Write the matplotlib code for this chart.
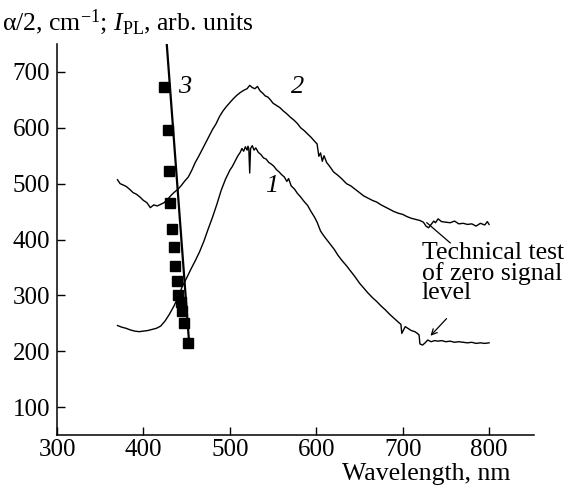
import matplotlib
matplotlib.use("Agg")
import matplotlib.pyplot as plt

plt.rcParams['font.family'] = ['Liberation Serif', 'DejaVu Serif']
plt.rcParams['mathtext.fontset'] = 'custom'
plt.rcParams['mathtext.rm'] = 'Liberation Serif'
plt.rcParams['mathtext.it'] = 'Liberation Serif:italic'

# curve 1: PL spectrum (lower)
wl1 = [370, 375, 380, 385, 390, 395, 400, 405, 410, 415, 420, 425, 430, 435, 440,
       445, 450, 455, 460, 465, 470, 475, 480, 485, 490, 495, 500, 503, 506, 509,
       512, 514, 516, 518, 520, 521, 522, 523, 524, 526, 528, 530, 533, 536, 539,
       542, 545, 548, 551, 554, 557, 560, 563, 566, 568, 571, 575, 578, 582, 586,
       590, 594, 598, 601, 605, 609, 613, 617, 621, 625, 630, 635, 640, 645, 650,
       655, 660, 665, 670, 675, 680, 685, 690, 695, 698, 699, 703, 706, 710, 714,
       717, 719, 720, 723, 726, 729, 733, 737, 741, 745, 750, 755, 760, 765, 770,
       775, 780, 785, 790, 795, 800]
pl1 = [246, 243, 241, 238, 236, 235, 236, 237, 239, 241, 245, 254, 266, 280, 296,
       316, 331, 347, 362, 378, 397, 419, 440, 463, 488, 508, 524, 531, 540, 549,
       556, 563, 558, 566, 560, 567, 562, 519, 563, 568, 560, 564, 556, 552, 546,
       544, 538, 535, 531, 525, 521, 516, 512, 504, 509, 496, 490, 483, 476, 468,
       461, 450, 440, 431, 415, 406, 398, 390, 382, 372, 362, 353, 343, 333, 322,
       313, 304, 296, 289, 281, 274, 266, 259, 252, 248, 232, 244, 241, 237, 235,
       232, 229, 213, 211, 215, 220, 217, 219, 218, 219, 217, 218, 216, 217, 216,
       215, 216, 214, 215, 214, 215]

# curve 2: PL spectrum (upper)
wl2 = [370, 373, 376, 380, 384, 388, 392, 396, 400, 404, 408, 412, 416, 420, 424,
       428, 432, 436, 440, 444, 448, 452, 456, 460, 464, 468, 472, 476, 480, 484,
       488, 492, 496, 500, 504, 508, 512, 516, 520, 523, 526, 529, 532, 535, 538,
       541, 544, 547, 550, 554, 558, 562, 566, 570, 574, 578, 582, 586, 590, 594,
       598, 601, 603, 605, 607, 609, 612, 616, 620, 625, 630, 635, 640, 645, 650,
       655, 660, 665, 670, 675, 680, 685, 690, 695, 700, 705, 710, 715, 720, 724,
       727, 730, 733, 736, 738, 741, 745, 750, 755, 760, 765, 770, 775, 780, 785,
       790, 795, 798, 800]
pl2 = [507, 500, 498, 495, 490, 484, 481, 476, 470, 466, 457, 462, 460, 463, 466,
       472, 479, 485, 490, 497, 505, 512, 524, 538, 549, 561, 573, 585, 597, 607,
       620, 630, 638, 645, 652, 658, 663, 667, 670, 676, 672, 670, 674, 666, 662,
       657, 655, 650, 644, 640, 636, 630, 625, 619, 614, 608, 600, 595, 589, 583,
       576, 571, 549, 555, 540, 550, 538, 530, 521, 515, 508, 500, 496, 490, 484,
       478, 474, 470, 467, 462, 458, 454, 450, 447, 445, 441, 438, 436, 434, 431,
       424, 421, 427, 433, 430, 437, 432, 431, 430, 433, 428, 429, 427, 428, 424,
       429, 426, 432, 427]

# curve 3: absorption points
wl3 = [424, 428, 430, 431, 433, 435, 437, 439, 440, 443, 445, 447, 452]
a3 = [673, 596, 522, 466, 418, 386, 353, 325, 300, 288, 272, 250, 215]
fit3_wl = [427, 453]
fit3_a = [750, 213]

fig = plt.figure(figsize=(5.74, 4.9), dpi=100)
ax = fig.add_axes([57 / 574, 1 - 435 / 490, (534 - 57) / 574, (435 - 44) / 490])

ax.plot(wl1, pl1, color='black', lw=1.0)
ax.plot(wl2, pl2, color='black', lw=1.0)
ax.plot(fit3_wl, fit3_a, color='black', lw=1.6)
ax.plot(wl3, a3, 's', color='black', ms=7)

ax.set_xlim(300, 852)
ax.set_ylim(50, 750)
ax.set_xticks([300, 400, 500, 600, 700, 800])
ax.set_yticks([100, 200, 300, 400, 500, 600, 700])
ax.tick_params(direction='in', length=6, width=1, labelsize=18)
ax.tick_params(axis='x', pad=3)
ax.tick_params(axis='y', pad=5)
for s in ['top', 'right']:
    ax.spines[s].set_visible(False)
for s in ['left', 'bottom']:
    ax.spines[s].set_linewidth(1.1)

ax.text(448, 673, '3', fontsize=19, style='italic', ha='center', va='center')
ax.text(579, 673, '2', fontsize=19, style='italic', ha='center', va='center')
ax.text(549, 496, '1', fontsize=19, style='italic', ha='center', va='center')

ax.text(722, 395, 'Technical test\nof zero signal\nlevel', fontsize=18.5,
        ha='left', va='top', linespacing=0.85)
ax.plot([728, 755], [430, 394], color='black', lw=0.9)
ax.annotate('', xy=(730, 224), xytext=(753, 262),
            arrowprops=dict(arrowstyle='->', lw=0.9, color='black'))

fig.text(2 / 574, 1 - 22 / 490, r'α/2, cm$^{-1}$; $I_{\mathrm{PL}}$, arb. units',
         fontsize=18.5, ha='left', va='center')
fig.text(510 / 574, 1 - 474 / 490, 'Wavelength, nm', fontsize=18.5,
         ha='right', va='center')

fig.savefig('out.png', dpi=100)
